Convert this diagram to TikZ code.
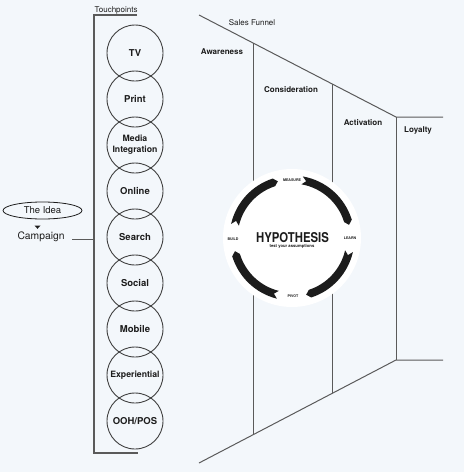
\documentclass[tikz,border=0pt]{standalone}
\usepackage{fontspec}
\setmainfont{TeX Gyre Heros}
\usetikzlibrary{shapes.geometric}
\definecolor{bg}{RGB}{243,247,251}
\definecolor{ln}{RGB}{90,90,90}
\definecolor{ink}{RGB}{28,28,28}
\definecolor{ring}{RGB}{64,64,64}
\tikzset{
  tp/.style={circle, draw=ring, line width=0.9pt, minimum size=56pt, inner sep=0pt,
    font=\bfseries\fontsize{9.5}{10}\selectfont, text=ink, align=center},
  tpsmall/.style={tp, font=\bfseries\fontsize{8.7}{11}\selectfont},
  fnl/.style={draw=ln, line width=1pt},
  brk/.style={draw=ln, line width=1.2pt},
  stage/.style={font=\bfseries\fontsize{8}{9}\selectfont, text=ink, inner sep=0pt},
  plain/.style={font=\fontsize{8}{9}\selectfont, text=ink, inner sep=0pt},
  wlab/.style={font=\bfseries\fontsize{3.6}{4}\selectfont, text=ink, inner sep=0pt},
  wheel/.style={fill=ink}
}
\newcommand{\wheelarc}[2]{%
  \fill[wheel] (#1:62.5) arc[start angle=#1, end angle={#2+4}, radius=62.5]
    -- ({#2}:58.5) -- ({#2+4}:54.5) arc[start angle={#2+4}, end angle=#1, radius=54.5]
    -- ({#1-4}:58.5) -- cycle;}
\begin{document}
\begin{tikzpicture}[x=1pt,y=-1pt]
\fill[bg] (0,0) rectangle (464,472);
\useasboundingbox (0,0) rectangle (464,472);

% --- Touchpoints bracket
\coordinate (bt0) at (137,15);
\coordinate (bt1) at (94,15);
\coordinate (bb1) at (94,453);
\coordinate (bb0) at (138,453);
\draw[brk] (bt0) -- (bt1) -- (bb1) -- (bb0);
\node[plain, anchor=base west] (touch) at (94.5,12) {Touchpoints};

% --- touchpoint circles
\node[tp] (tv) at (135,53) {TV};
\node[tp] (print) at (135,99) {Print};
\node[tpsmall] (media) at (135,145) {Media\\Integration};
\node[tp] (online) at (135,191) {Online};
\node[tp] (search) at (135,237) {Search};
\node[tp] (social) at (135,283) {Social};
\node[tp] (mobile) at (135,329) {Mobile};
\node[tpsmall] (exper) at (135,375) {Experiential};
\node[tp] (ooh) at (135,421) {OOH/POS};

% --- idea / campaign
\node[ellipse, draw=ink, line width=0.8pt, minimum width=79pt, minimum height=17pt, inner sep=0pt,
  font=\fontsize{9.5}{10}\selectfont, text=ink] (idea) at (42.5,210.5) {The Idea};
\node[font=\fontsize{10.3}{11}\selectfont, text=ink, inner sep=0pt] (camp) at (41,237) {Campaign};
\coordinate (cj) at (94,239);
\coordinate (cs) at (72,239);
\draw[fnl] (cs) -- (cj);
\fill[ink] (34.5,225.5) -- (40.5,225.5) -- (37.5,228.8) -- cycle;

% --- funnel
\coordinate (f0) at (199,15);
\coordinate (fa) at (253,43);
\coordinate (fc) at (332,84);
\coordinate (fl) at (396,117);
\coordinate (fe) at (443,117);
\coordinate (g0) at (199,463);
\coordinate (ga) at (253,435);
\coordinate (gc) at (332,393);
\coordinate (gl) at (396,360);
\coordinate (ge) at (443,360);
\draw[fnl] (f0) -- (fl) -- (fe);
\draw[fnl] (g0) -- (gl) -- (ge);
\draw[fnl] (fa) -- (ga);
\draw[fnl] (fc) -- (gc);
\draw[fnl] (fl) -- (gl);

\node[plain] (funnel) at (252,23) {Sales Funnel};
\node[stage] (aware) at (222,52) {Awareness};
\node[stage] (consid) at (291,90) {Consideration};
\node[stage] (activ) at (363,123) {Activation};
\node[stage] (loyal) at (418,130) {Loyalty};

% --- hypothesis wheel
\begin{scope}[shift={(292,238)}, yscale=-1]
  \fill[white] (0,0) circle[radius=69];
  \wheelarc{167}{104}
  \wheelarc{80}{13}
  \wheelarc{-13}{-76}
  \wheelarc{-104}{-167}
\end{scope}
\node[inner sep=0pt, text=ink, font=\bfseries\fontsize{13.5}{13.5}\selectfont] (hyp) at (292.5,237.5) {\scalebox{0.84}[1]{HYPOTHESIS}};
\node[wlab, font=\bfseries\fontsize{4.2}{4.2}\selectfont] (assume) at (292,246.5) {test your assumptions};
\node[wlab] (measure) at (292,180) {MEASURE};
\node[wlab] (learn) at (350,238) {LEARN};
\node[wlab] (pivot) at (293,296) {PIVOT};
\node[wlab] (build) at (233,239) {BUILD};
\end{tikzpicture}
\end{document}
